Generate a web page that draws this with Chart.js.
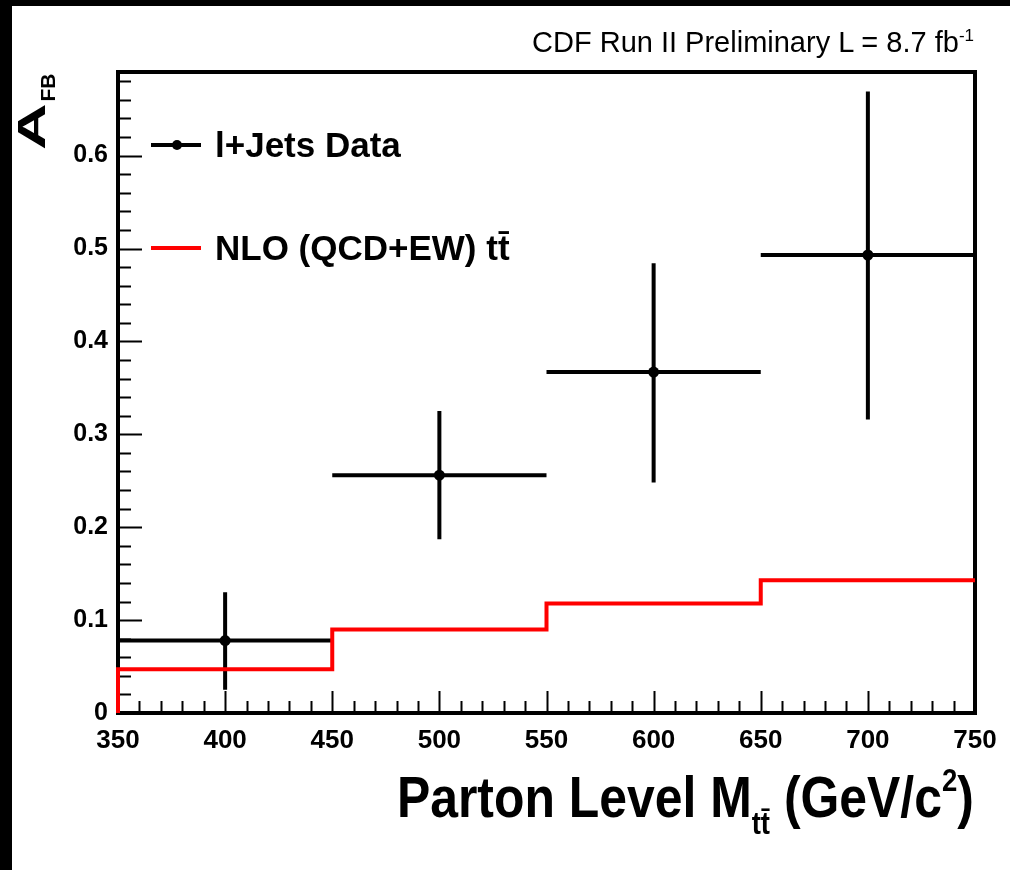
<!DOCTYPE html>
<html>
<head>
<meta charset="utf-8">
<script src="https://cdn.jsdelivr.net/npm/chart.js@4.4.0/dist/chart.umd.min.js"></script>
<style>
  html, body { margin: 0; padding: 0; background: #fff; }
  #page { position: relative; width: 1010px; height: 870px; overflow: hidden; background: #fff; }
  #page canvas { position: absolute; left: 0; top: 0; }
  .edge { position: absolute; background: #000; }
  .txt { position: absolute; color: #000; white-space: nowrap; font-family: "Liberation Sans", Arial, sans-serif; }
  #topLabel { right: 36px; top: 26px; font-size: 29px; }
  #topLabel sup { font-size: 17px; vertical-align: 11px; }
  #yTitle { left: 12px; top: 150px; font-weight: bold; font-size: 38px; line-height: 40px;
            transform: rotate(-90deg); transform-origin: left top; }
  #yTitle .big { display: inline-block; transform: scaleX(1.7); transform-origin: left center; margin-right: 21px; }
  #yTitle .sub { position: relative; top: 10px; font-size: 21px; }
  #xTitle { right: 36px; top: 762px; font-weight: bold; font-size: 58px; transform: scaleX(0.86); transform-origin: right top; }
  #xTitle sub { font-size: 32px; vertical-align: -17px; }
  #xTitle sup { font-size: 32px; vertical-align: 26px; }
  .leg { position: absolute; left: 151px; font-size: 35px; font-weight: bold; font-family: "Liberation Sans", Arial, sans-serif; }
  .leg .sw { position: absolute; left: 0; width: 50px; height: 4px; top: 18px; }
  .leg .dot { position: absolute; left: 21px; top: 15px; width: 10px; height: 10px; border-radius: 50%; background: #000; }
  .leg .lab { position: absolute; left: 64px; top: 0; white-space: nowrap; }
</style>
</head>
<body>
<div id="page">
  <canvas id="afbChart" width="1010" height="870"></canvas>
  <div class="edge" style="left:0;top:0;width:12px;height:870px"></div>
  <div class="edge" style="left:0;top:0;width:1010px;height:6px"></div>
  <div id="topLabel" class="txt">CDF Run II Preliminary L = 8.7 fb<sup>-1</sup></div>
  <div id="yTitle" class="txt"><span class="big">A</span><span class="sub">FB</span></div>
  <div id="xTitle" class="txt">Parton Level M<sub>tt&#772;</sub> (GeV/c<sup>2</sup>)</div>
  <div class="leg" style="top:125px">
    <div class="sw" style="background:#000"></div><div class="dot"></div>
    <div class="lab">l+Jets Data</div>
  </div>
  <div class="leg" style="top:228px">
    <div class="sw" style="background:#ff0000"></div>
    <div class="lab">NLO (QCD+EW) tt&#772;</div>
  </div>
</div>
<script>
// bins in parton level M_tt (GeV/c^2)
const binEdges = [350, 450, 550, 650, 750];
const binCenters = [400, 500, 600, 700];

// l+jets data, with error band low/high
const dataValues = [0.078, 0.256, 0.367, 0.493];
const errLow = [0.025, 0.187, 0.248, 0.316];
const errHigh = [0.130, 0.325, 0.484, 0.669];

// NLO (QCD+EW) prediction per bin
const nloValues = [0.047, 0.090, 0.118, 0.143];

// the histogram step starts from zero at the left edge
const nloPoints = [{ x: binEdges[0], y: 0 }];
nloValues.forEach((v, i) => nloPoints.push({ x: binEdges[i], y: v }));
nloPoints.push({ x: binEdges[binEdges.length - 1], y: nloValues[nloValues.length - 1] });

const dataPoints = binCenters.map((c, i) => ({ x: c, y: dataValues[i] }));

// ROOT style frame with inward ticks on the left and bottom axes
const rootFrame = {
  id: 'rootFrame',
  beforeDatasetsDraw(chart) {
    const { ctx, chartArea: a, scales: { x, y } } = chart;
    ctx.save();
    ctx.strokeStyle = '#000';
    ctx.lineWidth = 2;
    ctx.beginPath();
    for (let v = 0; v <= y.max + 1e-9; v += 0.02) {
      const py = Math.round(y.getPixelForValue(v)) + 0.5;
      const major = Math.abs(v * 10 - Math.round(v * 10)) < 1e-6;
      ctx.moveTo(a.left, py);
      ctx.lineTo(a.left + (major ? 24 : 13), py);
    }
    for (let v = x.min; v <= x.max; v += 10) {
      const px = Math.round(x.getPixelForValue(v)) + 0.5;
      const major = v % 50 === 0;
      ctx.moveTo(px, a.bottom);
      ctx.lineTo(px, a.bottom - (major ? 22 : 12));
    }
    ctx.stroke();
    ctx.lineWidth = 4;
    ctx.strokeRect(a.left, a.top, a.right - a.left, a.bottom - a.top);
    ctx.restore();
  }
};

// draws the error crosses (bin width + vertical error)
const errorBars = {
  id: 'errorBars',
  beforeDatasetsDraw(chart) {
    const { ctx, scales: { x, y } } = chart;
    ctx.save();
    ctx.strokeStyle = '#000';
    ctx.lineWidth = 4;
    binCenters.forEach((c, i) => {
      const px = x.getPixelForValue(c);
      const py = y.getPixelForValue(dataValues[i]);
      ctx.beginPath();
      ctx.moveTo(x.getPixelForValue(binEdges[i]), py);
      ctx.lineTo(x.getPixelForValue(binEdges[i + 1]), py);
      ctx.moveTo(px, y.getPixelForValue(errLow[i]));
      ctx.lineTo(px, y.getPixelForValue(errHigh[i]));
      ctx.stroke();
    });
    ctx.restore();
  }
};

const fontFamily = '"Liberation Sans", Arial, sans-serif';

new Chart(document.getElementById('afbChart'), {
  type: 'scatter',
  data: {
    datasets: [
      {
        label: 'NLO (QCD+EW) tt',
        data: nloPoints,
        showLine: true,
        stepped: 'before',
        borderColor: '#ff0000',
        borderWidth: 4,
        pointRadius: 0,
        fill: false,
        clip: false
      },
      {
        label: 'l+Jets Data',
        data: dataPoints,
        showLine: false,
        pointRadius: 5.5,
        pointBackgroundColor: '#000',
        pointBorderColor: '#000',
        pointBorderWidth: 0
      }
    ]
  },
  options: {
    responsive: false,
    animation: false,
    devicePixelRatio: 1,
    layout: { padding: { top: 72, right: 35, bottom: 0, left: 0 } },
    plugins: { legend: { display: false }, tooltip: { enabled: false } },
    scales: {
      x: {
        type: 'linear',
        min: 350,
        max: 750,
        grid: { display: false },
        border: { display: false },
        ticks: { stepSize: 50, color: '#000', font: { family: fontFamily, size: 26, weight: 'bold' }, padding: 4, maxRotation: 0 },
        afterFit(scale) { scale.height = 157; }
      },
      y: {
        min: 0,
        max: 0.69,
        grid: { display: false },
        border: { display: false },
        ticks: {
          stepSize: 0.1,
          color: '#000',
          font: { family: fontFamily, size: 25, weight: 'bold' },
          padding: 2,
          callback: v => (v === 0 ? '0' : v.toFixed(1))
        },
        afterBuildTicks(scale) {
          scale.ticks = scale.ticks.filter(t => Math.abs(t.value * 10 - Math.round(t.value * 10)) < 1e-6);
        },
        afterFit(scale) { scale.width = 118; }
      }
    }
  },
  plugins: [rootFrame, errorBars]
});
</script>
</body>
</html>
